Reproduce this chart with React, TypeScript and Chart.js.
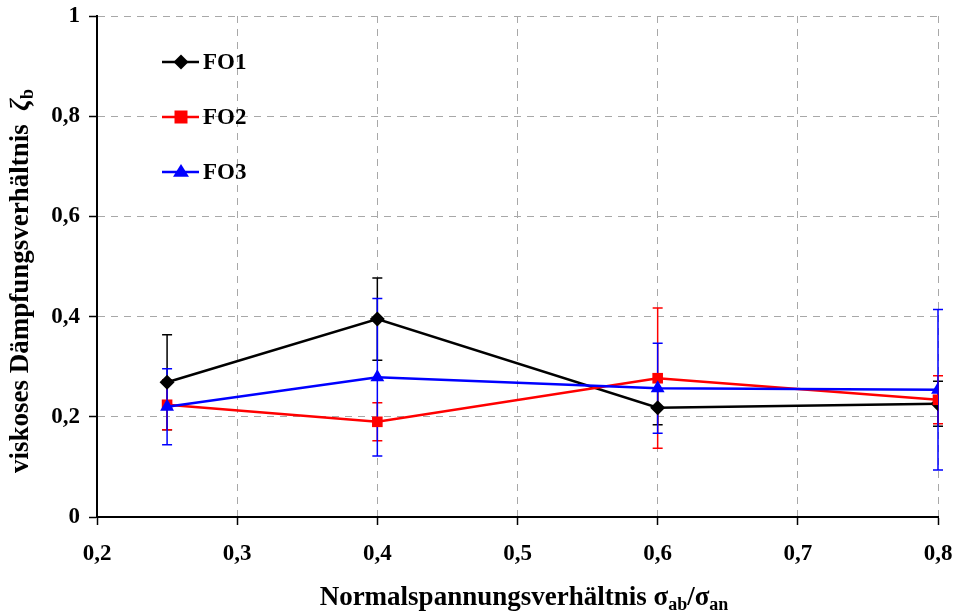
import React, { useEffect, useRef } from "react";
import { Chart, registerables } from "chart.js";

Chart.register(...registerables);

// ---- data ----
const xValues = [0.25, 0.4, 0.6, 0.8];
const seriesNames = ["FO1", "FO2", "FO3"];
const seriesColors = ["#000000", "#ff0000", "#0000ff"];
const seriesMarkers = ["rectRot", "rect", "triangle"];
const fo1 = [0.269, 0.395, 0.218, 0.226];
const fo1Err = [0.095, 0.082, 0.034, 0.045];
const fo2 = [0.224, 0.19, 0.277, 0.234];
const fo2Err = [0.05, 0.038, 0.14, 0.048];
const fo3 = [0.22, 0.279, 0.257, 0.254];
const fo3Err = [0.076, 0.157, 0.09, 0.16];
const xMin = 0.2;
const xMax = 0.8;
const xStep = 0.1;
const yMin = 0;
const yMax = 1;
const yStep = 0.2;
const xTitleParts = [
  { t: "Normalspannungsverhältnis σ", sub: false },
  { t: "ab", sub: true },
  { t: "/σ", sub: false },
  { t: "an", sub: true },
];
const yTitleParts = [
  { t: "viskoses Dämpfungsverhältnis  ", sub: false },
  { t: "ζ", sub: false, italic: true },
  { t: "b", sub: true },
];

const seriesValues = [fo1, fo2, fo3];
const seriesErrors = [fo1Err, fo2Err, fo3Err];

const FONT = "'Liberation Serif', 'Times New Roman', serif";
const TICK = 23;
const LEG = 23;
const TITLE = 27;
const SUB = 18;

function fmt(v: number) {
  const r = Math.round(v * 10) / 10;
  return String(r).replace(".", ",");
}

function partFont(p: any) {
  const size = p.sub ? SUB : TITLE;
  return `${p.italic ? "italic " : ""}bold ${size}px ${FONT}`;
}

function drawRich(ctx: CanvasRenderingContext2D, parts: any[], cx: number, baseline: number) {
  let total = 0;
  parts.forEach((p) => {
    ctx.font = partFont(p);
    total += ctx.measureText(p.t).width;
  });
  let x = cx - total / 2;
  ctx.textAlign = "left";
  ctx.textBaseline = "alphabetic";
  parts.forEach((p) => {
    ctx.font = partFont(p);
    ctx.fillText(p.t, x, baseline + (p.sub ? 5 : 0));
    x += ctx.measureText(p.t).width;
  });
}

function drawMarker(ctx: CanvasRenderingContext2D, kind: string, x: number, y: number, color: string) {
  ctx.fillStyle = color;
  ctx.beginPath();
  if (kind === "rectRot") {
    const r = 7.5;
    ctx.moveTo(x, y - r);
    ctx.lineTo(x + r, y);
    ctx.lineTo(x, y + r);
    ctx.lineTo(x - r, y);
  } else if (kind === "rect") {
    const r = 6.5;
    ctx.rect(x - r, y - r, 2 * r, 2 * r);
  } else {
    const r = 8;
    ctx.moveTo(x, y - r);
    ctx.lineTo(x + r, y + r * 0.6);
    ctx.lineTo(x - r, y + r * 0.6);
  }
  ctx.closePath();
  ctx.fill();
}

const errorBarPlugin = {
  id: "errorBars",
  beforeDatasetsDraw(chart: any) {
    const ctx = chart.ctx as CanvasRenderingContext2D;
    const xs = chart.scales.x;
    const ys = chart.scales.y;
    ctx.save();
    seriesValues.forEach((vals, si) => {
      ctx.strokeStyle = seriesColors[si];
      ctx.lineWidth = 1.5;
      vals.forEach((v, i) => {
        const e = seriesErrors[si][i];
        const px = xs.getPixelForValue(xValues[i]);
        const top = ys.getPixelForValue(v + e);
        const bot = ys.getPixelForValue(v - e);
        ctx.beginPath();
        ctx.moveTo(px, top);
        ctx.lineTo(px, bot);
        ctx.moveTo(px - 5, top);
        ctx.lineTo(px + 5, top);
        ctx.moveTo(px - 5, bot);
        ctx.lineTo(px + 5, bot);
        ctx.stroke();
      });
    });
    ctx.restore();
  },
};

const decorPlugin = {
  id: "decor",
  afterDraw(chart: any) {
    const ctx = chart.ctx as CanvasRenderingContext2D;
    const area = chart.chartArea;
    ctx.save();
    ctx.fillStyle = "#000";
    // legend
    const rowsY = [62, 117, 172];
    seriesNames.forEach((name, i) => {
      const y = rowsY[i];
      ctx.strokeStyle = seriesColors[i];
      ctx.lineWidth = 2.5;
      ctx.beginPath();
      ctx.moveTo(area.left + 65, y);
      ctx.lineTo(area.left + 102, y);
      ctx.stroke();
      drawMarker(ctx, seriesMarkers[i], area.left + 84, y, seriesColors[i]);
      ctx.fillStyle = "#000";
      ctx.font = `bold ${LEG}px ${FONT}`;
      ctx.textAlign = "left";
      ctx.textBaseline = "middle";
      ctx.fillText(name, area.left + 106, y + 1);
    });
    // x title
    ctx.fillStyle = "#000";
    drawRich(ctx, xTitleParts, 524, 605);
    // y title
    ctx.save();
    ctx.translate(28, 281);
    ctx.rotate(-Math.PI / 2);
    drawRich(ctx, yTitleParts, 0, 0);
    ctx.restore();
    ctx.restore();
  },
};

export default function App() {
  const ref = useRef<HTMLCanvasElement | null>(null);
  useEffect(() => {
    if (!ref.current) return;
    const datasets = seriesNames.map((name, i) => ({
      label: name,
      data: xValues.map((x, j) => ({ x, y: seriesValues[i][j] })),
      borderColor: seriesColors[i],
      backgroundColor: seriesColors[i],
      borderWidth: 2.5,
      pointStyle: seriesMarkers[i] as any,
      pointRadius: i === 2 ? 8 : 7.5,
      pointBorderWidth: 0,
      pointBackgroundColor: seriesColors[i],
      order: 3 - i,
      tension: 0,
      showLine: true,
    }));
    const chart = new Chart(ref.current, {
      type: "line",
      data: { datasets },
      plugins: [errorBarPlugin, decorPlugin],
      options: {
        animation: false,
        responsive: false,
        maintainAspectRatio: false,
        layout: { padding: { top: 16, right: 17, left: 0, bottom: 0 } },
        plugins: { legend: { display: false }, tooltip: { enabled: false }, title: { display: false } },
        scales: {
          x: {
            type: "linear",
            min: xMin,
            max: xMax,
            ticks: {
              stepSize: xStep,
              color: "#000",
              padding: 15,
              maxRotation: 0,
              font: { family: FONT, size: TICK, weight: "bold" },
              callback: (v: any) => fmt(Number(v)),
            },
            grid: {
              color: "#a8a8a8",
              lineWidth: 1,
              tickLength: 8,
              tickColor: "#000",
              tickWidth: 1.5,
            },
            border: { display: true, color: "#000", width: 2, dash: [7, 6] },
            afterFit: (s: any) => {
              s.height = 95;
              s.paddingLeft = 0;
              s.paddingRight = 0;
              s.paddingTop = 0;
              s.paddingBottom = 0;
            },
          },
          y: {
            type: "linear",
            min: yMin,
            max: yMax,
            ticks: {
              stepSize: yStep,
              color: "#000",
              padding: 9,
              font: { family: FONT, size: TICK, weight: "bold" },
              callback: (v: any) => fmt(Number(v)),
            },
            grid: {
              color: "#a8a8a8",
              lineWidth: 1,
              tickLength: 8,
              tickColor: "#000",
              tickWidth: 1.5,
            },
            border: { display: true, color: "#000", width: 2, dash: [7, 6] },
            afterFit: (s: any) => {
              s.width = 97;
              s.paddingLeft = 0;
              s.paddingRight = 0;
              s.paddingTop = 0;
              s.paddingBottom = 0;
            },
          },
        },
      } as any,
    });
    return () => chart.destroy();
  }, []);
  return (
    <div style={{ position: "fixed", left: 0, top: 0, width: 955, height: 612, background: "#fff" }}>
      <canvas ref={ref} width={955} height={612} style={{ width: 955, height: 612 }} />
    </div>
  );
}
